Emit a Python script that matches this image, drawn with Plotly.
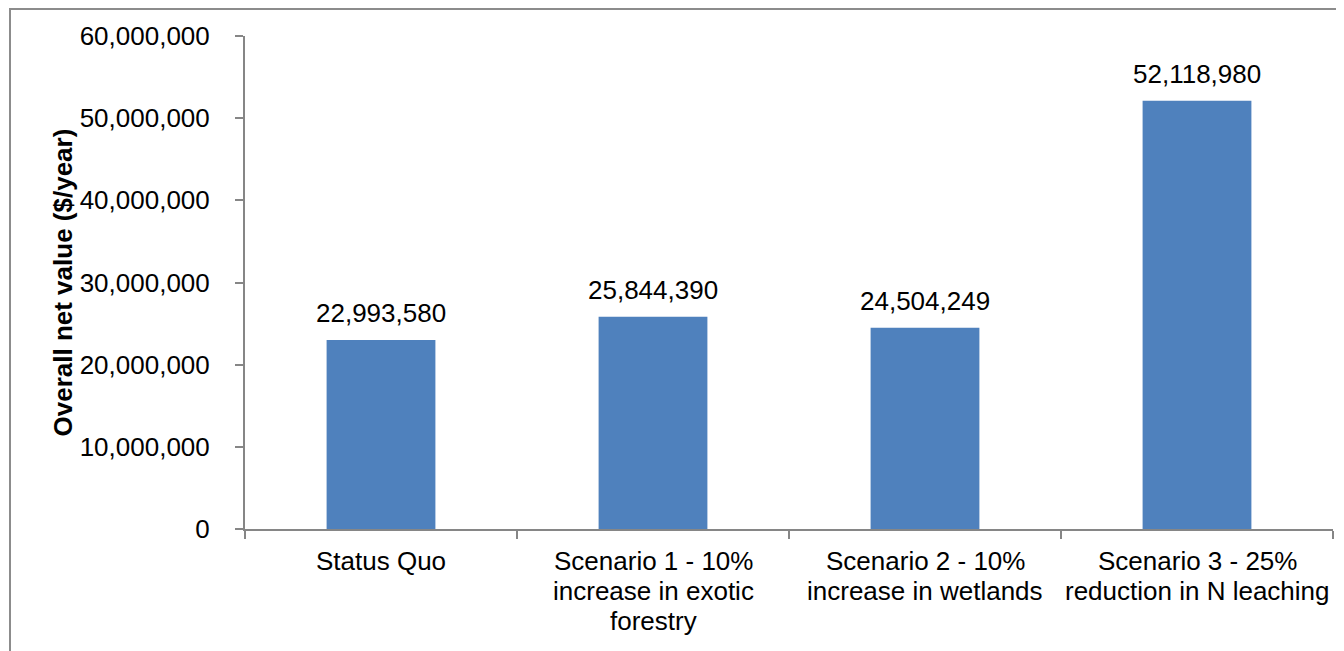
import plotly.graph_objects as go

categories = ["Status Quo", "Scenario 1", "Scenario 2", "Scenario 3"]
category_lines = [
    ["Status Quo"],
    ["Scenario 1 - 10%", "increase in exotic", "forestry"],
    ["Scenario 2 - 10%", "increase in wetlands"],
    ["Scenario 3 - 25%", "reduction in N leaching"],
]
values = [22993580, 25844390, 24504249, 52118980]
y_title = "Overall net value ($/year)"

FONT = "Liberation Sans, Arial"
W, H = 1336, 643
L, R, T, B = 237, 11, 28, 122
pw, ph = W - L - R, H - T - B

fig = go.Figure(go.Bar(
    x=categories, y=values,
    marker=dict(color="#4F81BD", line=dict(width=0)),
    width=0.4,
    hoverinfo="x+y",
))

annotations = []
# data labels
for c, v in zip(categories, values):
    annotations.append(dict(
        x=c, y=v, xref="x", yref="y", text=f"{v:,}",
        showarrow=False, xanchor="center", yanchor="middle", yshift=27,
        font=dict(family=FONT, size=26, color="#000000"),
    ))
# category labels (multi-line, tight spacing)
for c, lines in zip(categories, category_lines):
    for i, line in enumerate(lines):
        annotations.append(dict(
            x=c, y=0, xref="x", yref="paper", text=line,
            showarrow=False, xanchor="center", yanchor="middle",
            yshift=-(32 + 30 * i),
            font=dict(family=FONT, size=26, color="#000000"),
        ))
# y-axis title
annotations.append(dict(
    text=f"<b>{y_title}</b>", textangle=-90,
    xref="paper", yref="paper", x=0, y=0.5,
    xanchor="center", yanchor="middle", xshift=-(L - 54),
    showarrow=False, font=dict(family=FONT, size=26, color="#000000"),
))

fig.update_layout(
    width=W, height=H,
    margin=dict(l=L, r=R, t=T, b=B, autoexpand=False),
    paper_bgcolor="white", plot_bgcolor="white",
    showlegend=False,
    font=dict(family=FONT, size=26, color="#000000"),
    xaxis=dict(
        showline=True, linecolor="#868686", linewidth=2,
        ticks="outside", ticklen=8, tickcolor="#868686", tickwidth=2,
        tickson="boundaries", showgrid=False, showticklabels=False,
    ),
    yaxis=dict(
        range=[0, 60000000], dtick=10000000, tickformat=",",
        showline=True, linecolor="#868686", linewidth=2,
        ticks="outside", ticklen=8, tickcolor="#868686", tickwidth=2,
        ticklabelstandoff=20,
        showgrid=False, zeroline=False,
        tickfont=dict(family=FONT, size=26),
    ),
    annotations=annotations,
    shapes=[dict(
        type="rect", xref="paper", yref="paper",
        x0=(2 - L) / pw, x1=(1400 - L) / pw,
        y0=-(700 - (H - B)) / ph, y1=((H - B) - 1) / ph,
        line=dict(color="#8C8C8C", width=2), fillcolor="rgba(0,0,0,0)",
        layer="below",
    )],
)

fig.write_html("out.html")
